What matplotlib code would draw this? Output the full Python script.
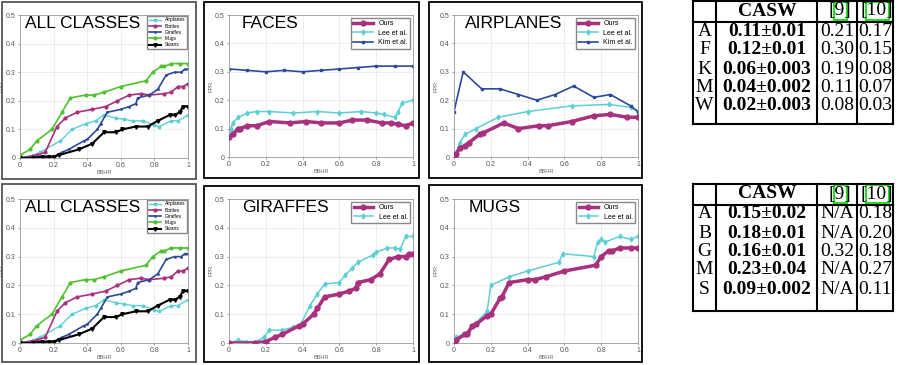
import numpy as np
import matplotlib.pyplot as plt
from matplotlib.patches import Rectangle
from matplotlib.lines import Line2D

W, H = 906, 365

# ---- ALL CLASSES ----
acl_air_x = [0, 0.08, 0.12, 0.24, 0.31, 0.39, 0.45, 0.5, 0.57, 0.62, 0.67, 0.73, 0.8, 0.83, 0.9, 0.94, 1.0]
acl_air_y = [0, 0.01, 0.02, 0.06, 0.10, 0.12, 0.13, 0.15, 0.14, 0.135, 0.13, 0.13, 0.115, 0.11, 0.13, 0.13, 0.15]
acl_bot_x = [0, 0.1, 0.15, 0.22, 0.27, 0.34, 0.43, 0.51, 0.58, 0.65, 0.72, 0.77, 0.86, 0.9, 0.94, 0.97, 1.0]
acl_bot_y = [0, 0.01, 0.02, 0.11, 0.14, 0.16, 0.17, 0.18, 0.20, 0.22, 0.225, 0.22, 0.225, 0.23, 0.25, 0.25, 0.26]
acl_mug_x = [0, 0.06, 0.1, 0.19, 0.25, 0.3, 0.39, 0.44, 0.5, 0.6, 0.75, 0.79, 0.84, 0.86, 0.9, 0.95, 1.0]
acl_mug_y = [0.01, 0.03, 0.06, 0.10, 0.16, 0.21, 0.22, 0.22, 0.23, 0.25, 0.27, 0.30, 0.32, 0.32, 0.33, 0.33, 0.33]
acl_swan_x = [0, 0.08, 0.13, 0.17, 0.2, 0.23, 0.35, 0.43, 0.5, 0.57, 0.61, 0.69, 0.76, 0.82, 0.89, 0.92, 0.95, 0.97, 1.0]
acl_swan_y = [0, 0, 0.005, 0.005, 0.005, 0.01, 0.03, 0.05, 0.09, 0.09, 0.10, 0.11, 0.11, 0.13, 0.15, 0.15, 0.16, 0.18, 0.18]

# ---- FACES ----
faces_ours_x = [0, 0.02, 0.05, 0.06, 0.1, 0.15, 0.22, 0.33, 0.42, 0.5, 0.6, 0.67, 0.75, 0.83, 0.88, 0.92, 0.96, 1.0]
faces_ours_y = [0.07, 0.08, 0.10, 0.10, 0.11, 0.11, 0.125, 0.12, 0.125, 0.12, 0.12, 0.13, 0.13, 0.12, 0.12, 0.115, 0.11, 0.12]
faces_lee_x = [0, 0.01, 0.02, 0.05, 0.1, 0.15, 0.22, 0.35, 0.48, 0.6, 0.72, 0.8, 0.84, 0.9, 0.92, 0.94, 1.0]
faces_lee_y = [0.07, 0.10, 0.12, 0.14, 0.155, 0.16, 0.16, 0.155, 0.16, 0.155, 0.16, 0.155, 0.15, 0.14, 0.16, 0.19, 0.20]
faces_kim_x = [0, 0.1, 0.2, 0.3, 0.4, 0.5, 0.6, 0.7, 0.8, 0.9, 1.0]
faces_kim_y = [0.31, 0.305, 0.30, 0.305, 0.30, 0.305, 0.31, 0.315, 0.32, 0.32, 0.32]

# ---- AIRPLANES ----
air_ours_x = [0, 0.01, 0.03, 0.06, 0.08, 0.14, 0.16, 0.27, 0.35, 0.46, 0.51, 0.64, 0.76, 0.85, 0.94, 1.0]
air_ours_y = [0, 0.01, 0.03, 0.04, 0.05, 0.08, 0.085, 0.12, 0.10, 0.11, 0.11, 0.125, 0.145, 0.15, 0.14, 0.14]
air_lee_x = [0, 0.01, 0.03, 0.06, 0.12, 0.24, 0.4, 0.64, 0.84, 0.96, 1.0]
air_lee_y = [0, 0.01, 0.05, 0.08, 0.10, 0.14, 0.16, 0.18, 0.185, 0.175, 0.16]
air_kim_x = [0, 0.05, 0.15, 0.25, 0.35, 0.45, 0.55, 0.65, 0.76, 0.85, 0.96, 1.0]
air_kim_y = [0.16, 0.30, 0.24, 0.24, 0.22, 0.20, 0.22, 0.25, 0.21, 0.22, 0.18, 0.16]

# ---- GIRAFFES ----
gir_ours_x = [0, 0.14, 0.2, 0.25, 0.29, 0.38, 0.4, 0.46, 0.48, 0.52, 0.6, 0.65, 0.69, 0.7, 0.77, 0.82, 0.87, 0.92, 0.96, 0.98, 1.0]
gir_ours_y = [0, 0, 0.005, 0.02, 0.03, 0.06, 0.065, 0.10, 0.12, 0.16, 0.17, 0.18, 0.19, 0.21, 0.22, 0.24, 0.29, 0.30, 0.30, 0.31, 0.31]
gir_lee_x = [0, 0.05, 0.09, 0.15, 0.19, 0.22, 0.29, 0.35, 0.39, 0.44, 0.48, 0.52, 0.6, 0.63, 0.67, 0.7, 0.78, 0.8, 0.86, 0.9, 0.93, 0.96, 1.0]
gir_lee_y = [0, 0.01, 0.005, 0.005, 0.02, 0.045, 0.045, 0.055, 0.065, 0.13, 0.17, 0.205, 0.21, 0.235, 0.26, 0.28, 0.305, 0.315, 0.33, 0.33, 0.325, 0.37, 0.37]

# ---- MUGS ----
mug_ours_x = [0, 0.01, 0.06, 0.07, 0.1, 0.12, 0.18, 0.2, 0.25, 0.26, 0.3, 0.4, 0.44, 0.5, 0.6, 0.77, 0.8, 0.84, 0.86, 0.9, 0.96, 1.0]
mug_ours_y = [0, 0.01, 0.03, 0.03, 0.06, 0.065, 0.095, 0.10, 0.155, 0.16, 0.21, 0.22, 0.22, 0.23, 0.25, 0.27, 0.30, 0.32, 0.32, 0.33, 0.33, 0.33]
mug_lee_x = [0, 0.01, 0.05, 0.08, 0.12, 0.18, 0.2, 0.3, 0.4, 0.57, 0.59, 0.76, 0.78, 0.8, 0.82, 0.9, 0.96, 1.0]
mug_lee_y = [0, 0.02, 0.03, 0.04, 0.07, 0.11, 0.20, 0.23, 0.25, 0.28, 0.31, 0.30, 0.35, 0.36, 0.35, 0.37, 0.36, 0.37]

# ---- tables ----
t1_rows = ['A', 'F', 'K', 'M', 'W']
t1_casw = ['0.11±0.01', '0.12±0.01', '0.06±0.003', '0.04±0.002', '0.02±0.003']
t1_c9 = ['0.21', '0.30', '0.19', '0.11', '0.08']
t1_c10 = ['0.17', '0.15', '0.08', '0.07', '0.03']
t2_rows = ['A', 'B', 'G', 'M', 'S']
t2_casw = ['0.15±0.02', '0.18±0.01', '0.16±0.01', '0.23±0.04', '0.09±0.002']
t2_c9 = ['N/A', 'N/A', '0.32', 'N/A', 'N/A']
t2_c10 = ['0.18', '0.20', '0.18', '0.27', '0.11']

C_OURS = '#a8307e'
C_LEE = '#5ccfd6'
C_KIM = '#2c4a9a'
C_MUG = '#4fc22e'

plt.rcParams['font.family'] = ['Liberation Sans', 'DejaVu Sans']

fig = plt.figure(figsize=(W / 100, H / 100), dpi=100)


def fx(x):
    return x / W


def fy(y):
    return 1 - y / H


def make_ax(x0, x1, y0, y1, title, tx):
    # x0,x1 = pixel of data x 0 and 1, y0 = pixel of y=0, y1 = pixel of y=0.5
    ax = fig.add_axes([fx(x0), fy(y0), (x1 - x0) / W, (y0 - y1) / H])
    ax.set_xlim(0, 1)
    ax.set_ylim(0, 0.5)
    ax.set_xticks([0, 0.2, 0.4, 0.6, 0.8, 1])
    ax.set_xticklabels(['0', '0.2', '0.4', '0.6', '0.8', '1'])
    ax.set_yticks([0, 0.1, 0.2, 0.3, 0.4, 0.5])
    ax.set_yticklabels(['0', '0.1', '0.2', '0.3', '0.4', '0.5'])
    ax.tick_params(labelsize=5, colors='#555555', length=1.5, width=0.4, pad=1.5)
    ax.grid(True, color='#e8e8e8', lw=0.5)
    for s in ax.spines.values():
        s.set_color('#9a9a9a')
        s.set_linewidth(0.6)
    ax.set_xlabel('BBHR', fontsize=4, color='#666666', labelpad=0.5)
    ax.set_ylabel('FPR', fontsize=4, color='#666666', labelpad=1)
    ax.text(tx, 0.995, title, transform=ax.transAxes, fontsize=12.5,
            va='top', ha='left', color='black')
    return ax


def frame(x0, y0, x1, y1, color='black'):
    fig.add_artist(Rectangle((fx(x0), fy(y1)), (x1 - x0) / W, (y1 - y0) / H,
                             transform=fig.transFigure, fill=False,
                             edgecolor=color, lw=1.3))


def all_classes(y0, y1):
    ax = make_ax(20, 188, y0, y1, 'ALL CLASSES', 0.03)
    ax.plot(acl_air_x, acl_air_y, color=C_LEE, marker='*', ms=2.5, lw=1, label='Airplanes')
    ax.plot(acl_bot_x, acl_bot_y, color=C_OURS, marker='o', ms=2, lw=1.2, label='Bottles')
    ax.plot(gir_ours_x, gir_ours_y, color=C_KIM, marker='.', ms=2, lw=1.2, label='Giraffes')
    ax.plot(acl_mug_x, acl_mug_y, color=C_MUG, marker='o', ms=2, lw=1.2, label='Mugs')
    ax.plot(acl_swan_x, acl_swan_y, color='black', marker='v', ms=2.5, lw=1.5, label='Swans')
    ax.legend(loc='upper right', fontsize=3.5, handlelength=2.5, borderpad=0.3,
              labelspacing=0.25, framealpha=1, edgecolor='#888888', fancybox=False,
              borderaxespad=0.2)
    return ax


def class_ax(x0, x1, y0, y1, title, tx, series):
    ax = make_ax(x0, x1, y0, y1, title, tx)
    for (xs, ys, name) in series:
        if name == 'Ours':
            ax.plot(xs, ys, color=C_OURS, marker='o', ms=3.5, lw=2.5, label=name, zorder=3)
        elif name == 'Lee et al.':
            ax.plot(xs, ys, color=C_LEE, marker='d', ms=2.5, lw=1.1, label=name)
        else:
            ax.plot(xs, ys, color=C_KIM, marker='s', ms=2, lw=1.2, label=name)
    ax.legend(loc='upper right', fontsize=5, handlelength=2.8, borderpad=0.35,
              labelspacing=0.35, framealpha=1, edgecolor='#888888', fancybox=False,
              borderaxespad=0.4)
    return ax


# top row
all_classes(158, 15)
class_ax(229, 413, 157, 15, 'FACES', 0.07,
         [(faces_ours_x, faces_ours_y, 'Ours'), (faces_lee_x, faces_lee_y, 'Lee et al.'),
          (faces_kim_x, faces_kim_y, 'Kim et al.')])
class_ax(454, 638, 157, 15, 'AIRPLANES', 0.06,
         [(air_ours_x, air_ours_y, 'Ours'), (air_lee_x, air_lee_y, 'Lee et al.'),
          (air_kim_x, air_kim_y, 'Kim et al.')])
# bottom row
all_classes(343, 199)
class_ax(229, 413, 343, 199, 'GIRAFFES', 0.07,
         [(gir_ours_x, gir_ours_y, 'Ours'), (gir_lee_x, gir_lee_y, 'Lee et al.')])
class_ax(454, 638, 343, 199, 'MUGS', 0.08,
         [(mug_ours_x, mug_ours_y, 'Ours'), (mug_lee_x, mug_lee_y, 'Lee et al.')])

frame(2, 2, 196, 179, '#555555')
frame(204, 2, 419, 178)
frame(429, 2, 642, 178)
frame(2, 184, 196, 362, '#555555')
frame(204, 186, 419, 362)
frame(429, 185, 642, 362)


def hline(x0, x1, y, lw=1.5):
    fig.add_artist(Line2D([fx(x0), fx(x1)], [fy(y), fy(y)], transform=fig.transFigure,
                          color='black', lw=lw))


def vline(x, y0, y1, lw=1.5):
    fig.add_artist(Line2D([fx(x), fx(x)], [fy(y0), fy(y1)], transform=fig.transFigure,
                          color='black', lw=lw))


def table(top, hdr, bottom, hy, rows_y, rows, casw, c9, c10):
    cols = [693, 716, 817, 857, 893]
    hline(cols[0], cols[-1], top)
    hline(cols[0], cols[-1], hdr)
    hline(cols[0], cols[-1], bottom)
    for c in cols:
        vline(c, top, bottom)
    kw = dict(fontsize=14, ha='center', va='center', family='Liberation Serif')
    fig.text(fx(767), fy(hy), 'CASW', fontweight='bold', **kw)
    fig.text(fx(840), fy(hy), '[9]', **kw)
    fig.text(fx(877), fy(hy), '[10]', **kw)
    for (x0, x1) in [(834, 847), (866, 889)]:
        fig.add_artist(Rectangle((fx(x0), fy(hy + 9)), (x1 - x0) / W, 18 / H,
                                 transform=fig.transFigure, fill=False,
                                 edgecolor='#22e022', lw=1.5))
    for i in range(len(rows)):
        y = fy(rows_y[i])
        fig.text(fx(704.5), y, rows[i], **kw)
        fig.text(fx(767), y, casw[i], fontweight='bold', **kw)
        fig.text(fx(837), y, c9[i], **kw)
        fig.text(fx(875), y, c10[i], **kw)


table(1, 22, 124, 11, [32, 50, 69, 87, 106], t1_rows, t1_casw, t1_c9, t1_c10)
table(184, 205, 311, 194, [214, 233, 252, 270, 290], t2_rows, t2_casw, t2_c9, t2_c10)

fig.savefig('out.png', dpi=100)
